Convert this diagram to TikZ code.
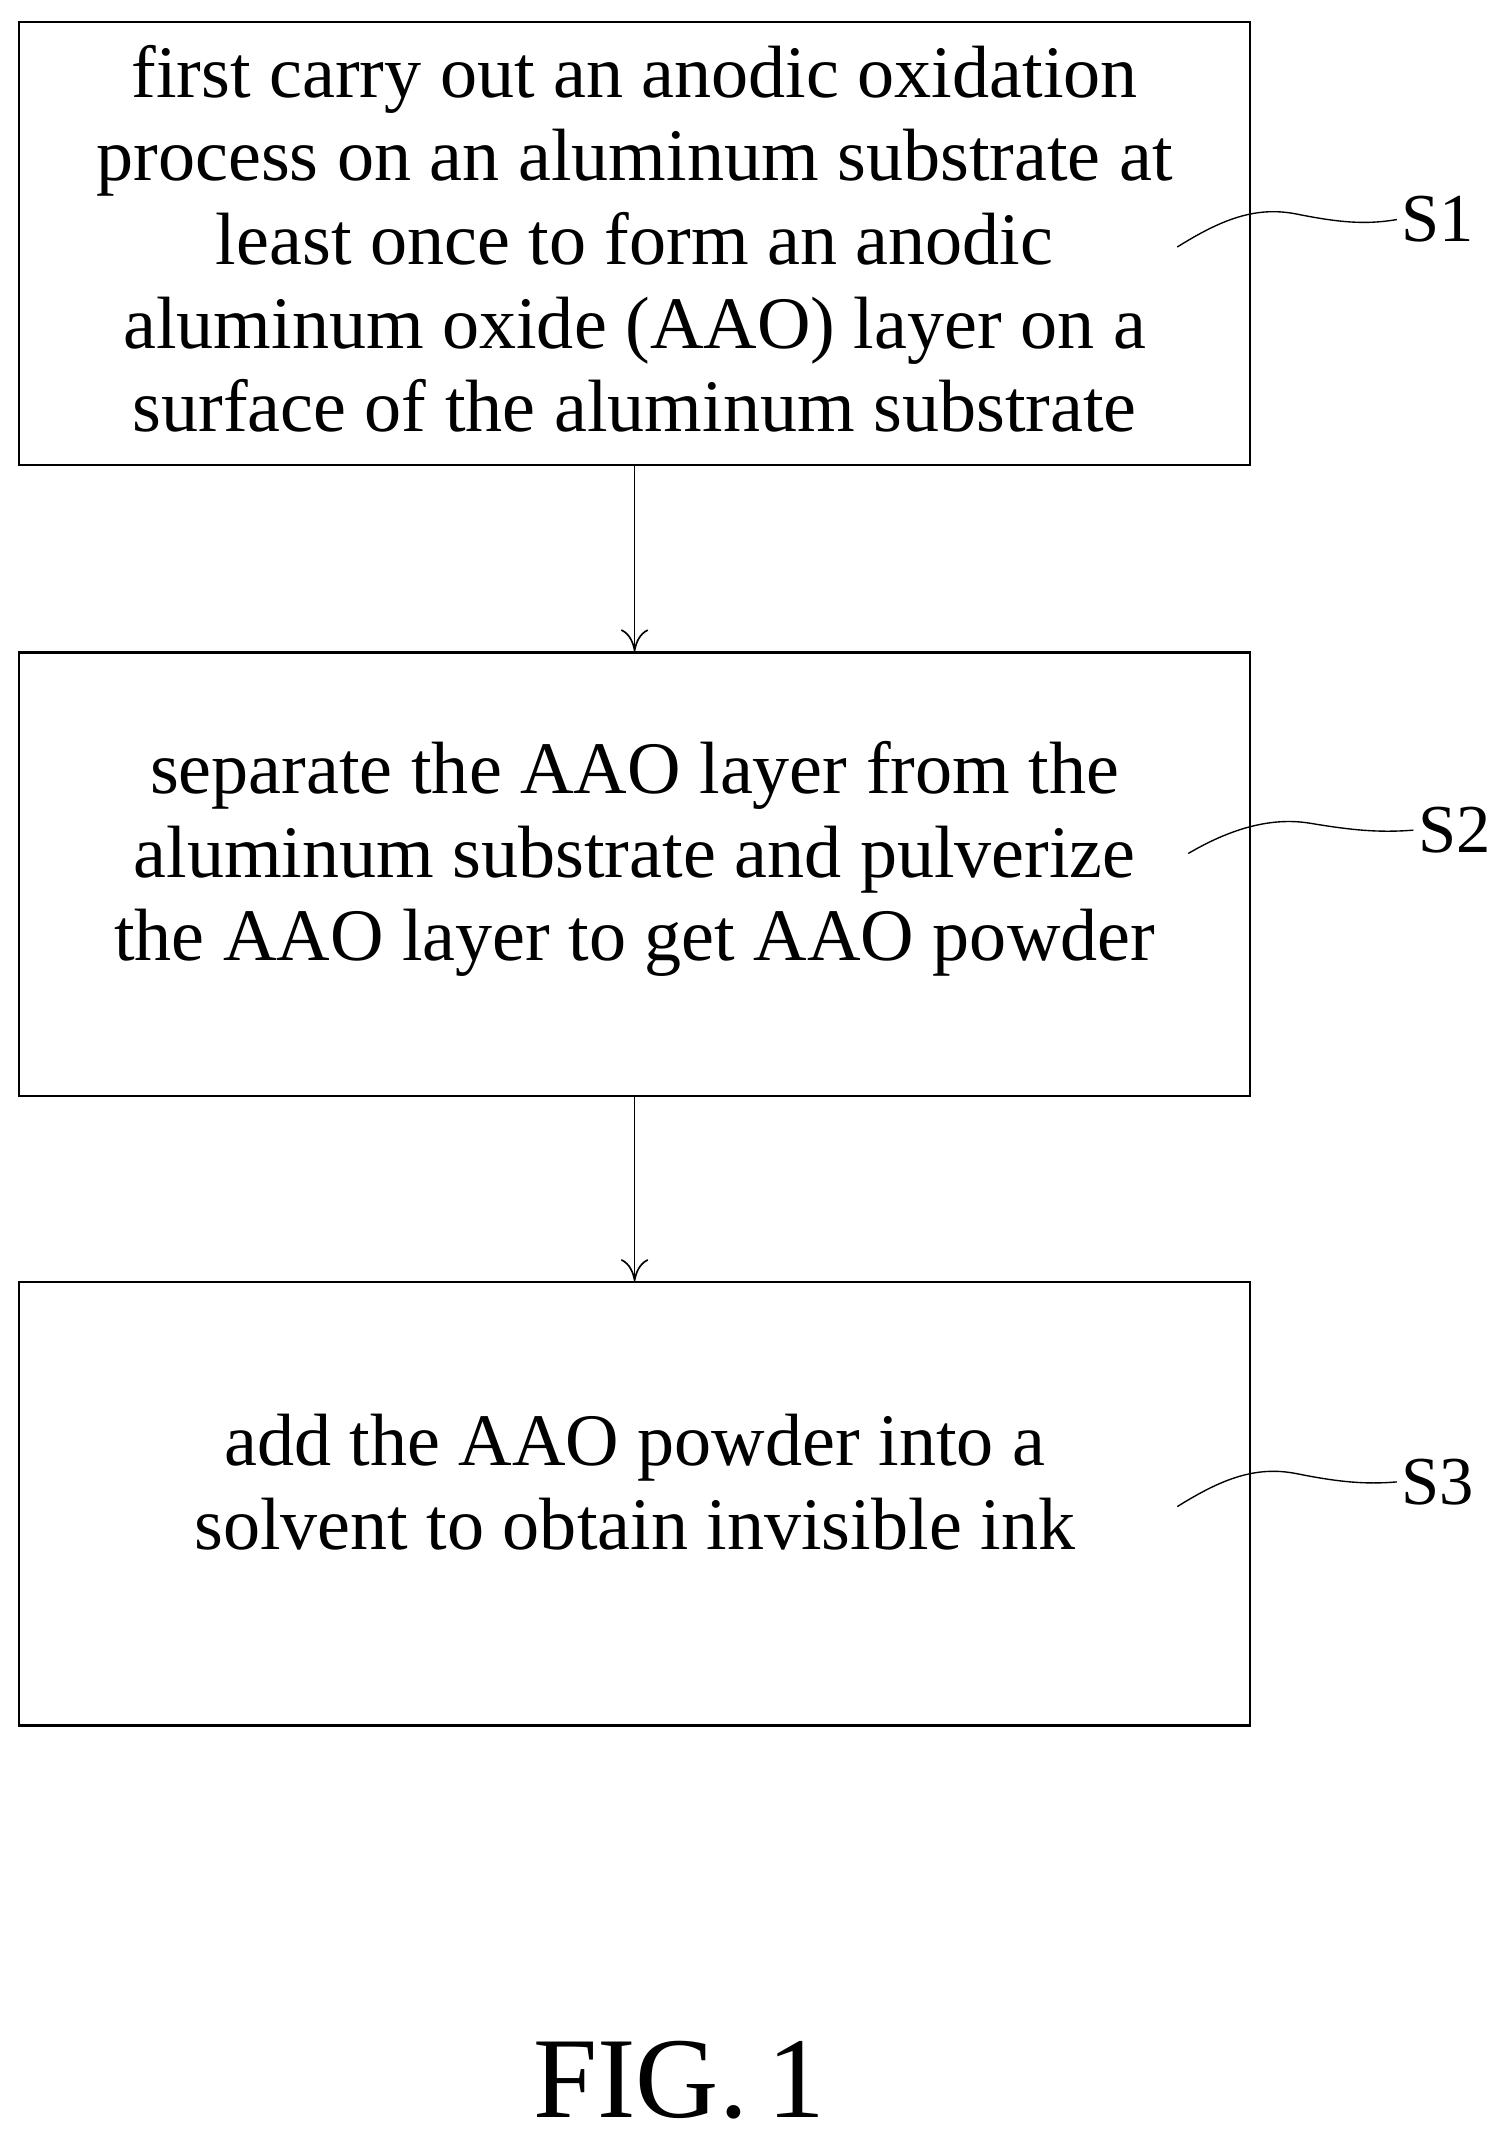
\documentclass[tikz,border=0pt]{standalone}
\usepackage{fontspec}
\setmainfont{Liberation Serif}
\usetikzlibrary{arrows.meta}
\begin{document}
\begin{tikzpicture}[x=1pt,y=-1pt,
  box/.style={draw,line width=1.6pt,minimum width=897pt,minimum height=323pt,inner sep=0pt,align=center},
  txt/.style={align=center,font=\fontsize{54}{61}\selectfont},
  lbl/.style={font=\fontsize{50}{55}\selectfont,anchor=west},
  arr/.style={line width=1.2pt,-{To[length=16pt,width=20pt]}},
  lead/.style={line width=1pt}]
\useasboundingbox (0,0) rectangle (1100,1564);
\node[box] (b1) at (462.5,177.5) {};
\node[box] (b2) at (462.5,637) {};
\node[box] (b3) at (462.5,1096) {};
\node[txt] (t1) at (462.5,174) {first carry out an anodic oxidation\\process on an aluminum substrate at\\least once to form an anodic\\aluminum oxide (AAO) layer on a\\surface of the aluminum substrate};
\node[txt] (t2) at (462.5,626) {separate the AAO layer from the\\aluminum substrate and pulverize\\the AAO layer to get AAO powder};
\node[txt] (t3) at (462.5,1080) {add the AAO powder into a\\solvent to obtain invisible ink};
\draw[arr] (b1.south) -- (b2.north);
\draw[arr] (b2.south) -- (b3.north);
\node[lbl] (s1) at (1018,160) {S1};
\node[lbl] (s2) at (1030,605) {S2};
\node[lbl] (s3) at (1018,1080) {S3};
\coordinate (c1) at (858,180);
\coordinate (c2) at (866,622);
\coordinate (c3) at (858,1098);
\draw[lead] (c1) .. controls (890,160) and (915,150) .. (945,156) .. controls (975,162) and (995,164) .. (s1.west);
\draw[lead] (c2) .. controls (895,605) and (925,595) .. (955,600) .. controls (985,605) and (1005,607) .. (s2.west);
\draw[lead] (c3) .. controls (890,1078) and (915,1068) .. (945,1074) .. controls (975,1080) and (995,1082) .. (s3.west);
\node[font=\fontsize{84}{90}\selectfont] (fig) at (495,1516) {FIG.\,1};
\end{tikzpicture}
\end{document}
